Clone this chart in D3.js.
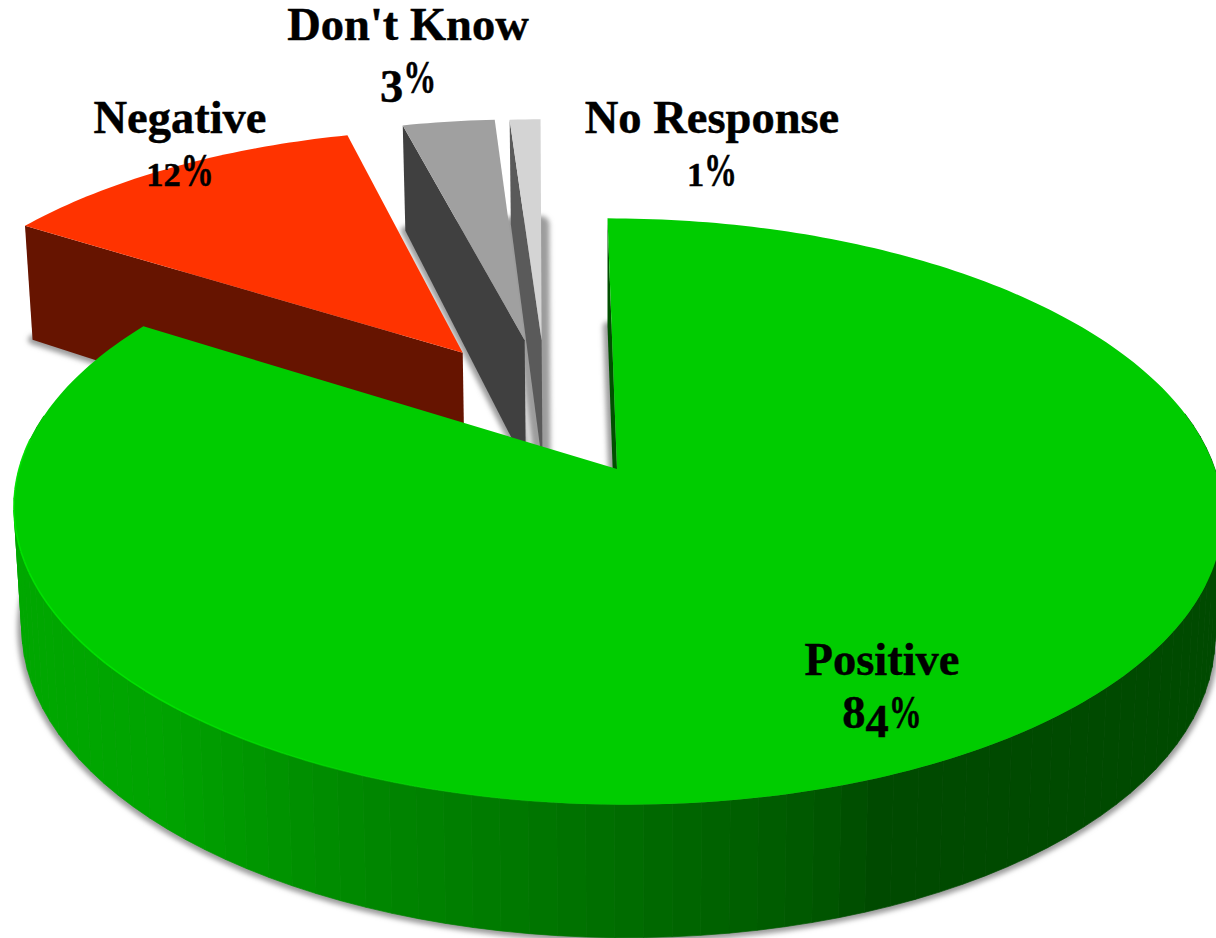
<!DOCTYPE html>
<html>
<head>
<meta charset="utf-8">
<script src="https://cdn.jsdelivr.net/npm/d3@7/dist/d3.min.js"></script>
<style>
html,body{margin:0;padding:0;background:#fff;overflow:hidden}
svg{display:block}
text{font-family:"Liberation Serif",serif;font-weight:700;fill:#000;stroke:#000;stroke-width:.45}
</style>
</head>
<body>
<svg id="chart" width="1216" height="938"></svg>
<script>
// ---- data ----
const categories = ["Positive", "Negative", "Don't Know", "No Response"];
const values = [84, 12, 3, 1];

// ---- layout (disc units: u to the right, v away from the viewer) ----
const explodeU = [0, -0.2668, -0.157, -0.1267];
const explodeV = [0, 0.43, 0.48, 0.48];
const labelX = [882, 180, 408, 712];
const labelY = [675, 133, 40, 133];
const topColors = ["#00cc00", "#ff3300", "#a0a0a0", "#d4d4d4"];
const cutColors = ["#005000", "#661400", "#404040", "#5a5a5a"];
const shadowSpread = [9, 9, 9, 16];

const W = 1216, H = 938;
const cx = 617, cy = 469, R = 598, RY = 287;
const persp = 0.145, shear = 9.5;
const depth = 119.2, depthPersp = 0.104, bottomScale = 0.987;

const svg = d3.select("#chart").attr("viewBox", [0, 0, W, H]);
const defs = svg.append("defs");
defs.append("filter").attr("id", "soft")
  .attr("x", "-20%").attr("y", "-20%").attr("width", "140%").attr("height", "140%")
  .append("feGaussianBlur").attr("stdDeviation", 2.6);

// wall height of the exploded slices by distance from the viewer
const cutDepth = d3.scaleLinear().domain([0.42, 0.96, 1.47]).range([127, 114, 105]);

// projection of a disc point to the top face / bottom face
const sx = (u, v) => cx + R * u / (1 + persp * v) - shear * v;
const sy = (u, v) => cy - RY * v / (1 + persp * v);
const topPt = ([u, v]) => [sx(u, v), sy(u, v)];
const botPt = ([u, v], i) => [
  cx - shear * v + R * bottomScale * u / (1 + persp * v),
  sy(u, v) + (i > 0 ? cutDepth(v) : depth / (1 + depthPersp * v))
];

const pie = d3.pie().sort(null).startAngle(0).endAngle(2 * Math.PI);
const arcs = pie(values);
const pt = (a, i) => [Math.sin(a) + explodeU[i], Math.cos(a) + explodeV[i]];
const apex = i => [explodeU[i], explodeV[i]];
const rim = (d, i, step = Math.PI / 180) => {
  const n = Math.max(2, Math.ceil((d.endAngle - d.startAngle) / step));
  return d3.range(n + 1).map(k => pt(d.startAngle + (d.endAngle - d.startAngle) * k / n, i));
};
const line = d3.line();
const closed = p => line(p) + "Z";

// wall shade of the positive slice, by horizontal position on the disc
const wallShade = d3.scaleLinear()
  .domain([-1, -0.7, -0.44, -0.03, 0.27, 0.36, 1])
  .range(["#00a800", "#00a400", "#008c00", "#006e00", "#005800", "#004a00", "#004a00"]);

// shadows under each bottom face
const gShadow = svg.append("g").attr("filter", "url(#soft)");
arcs.forEach((d, i) => {
  gShadow.append("path")
    .attr("d", closed([apex(i), ...rim(d, i)].map(p => botPt(p, i))))
    .attr("fill", "#9c9c9c").attr("stroke", "#9c9c9c")
    .attr("stroke-width", shadowSpread[i]).attr("stroke-linejoin", "round");
});

// exploded slices back to front, then the large slice
[3, 2, 1, 0].forEach(i => {
  const d = arcs[i], g = svg.append("g").attr("class", "slice").attr("data-name", categories[i]);
  const a = apex(i);
  const e = pt(d.startAngle, i);
  // cut face at the slice's start edge
  g.append("path").attr("d", closed([topPt(e), topPt(a), botPt(a, i), botPt(e, i)])).attr("fill", cutColors[i]);
  if (i === 0) {
    // outer wall as narrow shaded facets (only the side facing the viewer)
    const pts = rim(d, i, 2.4 * Math.PI / 180);
    g.selectAll("path.facet").data(d3.pairs(pts).filter(([p, q]) => p[1] < 0.2 && q[1] < 0.2))
      .join("path").attr("class", "facet")
      .attr("d", ([p, q]) => closed([topPt(p), topPt(q), botPt(q, i), botPt(p, i)]))
      .attr("fill", ([p, q]) => wallShade((p[0] + q[0]) / 2))
      .attr("stroke", ([p, q]) => wallShade((p[0] + q[0]) / 2))
      .attr("stroke-width", 0.7);
  }
  g.append("path").attr("d", closed([a, ...rim(d, i)].map(topPt))).attr("fill", topColors[i]);
  if (i === 0) {
    // bright rim along the lit part of the near edge, fading out towards the front
    const fade = d3.scaleLinear().domain([178, 225, 276]).range([0, 0.85, 0.85]);
    const degs = d3.range(178, 276, 2);
    g.selectAll("path.rimlight").data(degs).join("path").attr("class", "rimlight")
      .attr("d", x => line([x, x + 2].map(a2 => topPt(pt(a2 * Math.PI / 180, 0)))))
      .attr("fill", "none").attr("stroke", "#00e800").attr("stroke-width", 1.6)
      .attr("stroke-opacity", fade);
  }
});

// labels: old-style figures are imitated with per-digit size and drop
const fs = 46.5, lineGap = 53;
const figure = {
  "1": {size: 0.74, drop: 0}, "2": {size: 0.74, drop: 0},
  "3": {size: 1, drop: 0.2}, "4": {size: 1, drop: 0.2},
  "8": {size: 1, drop: 0}
};
values.forEach((v, i) => {
  svg.append("text").attr("x", labelX[i]).attr("y", labelY[i])
    .attr("text-anchor", "middle").attr("font-size", fs).text(categories[i]);
  const p = svg.append("text").attr("x", labelX[i]).attr("y", labelY[i] + lineGap)
    .attr("text-anchor", "middle").attr("font-size", fs);
  let prev = 0;
  String(v).split("").forEach(c => {
    const f = figure[c] || {size: 1, drop: 0};
    p.append("tspan").attr("font-size", fs * f.size)
      .attr("dy", (f.drop - prev) * fs).text(c);
    prev = f.drop;
  });
  p.append("tspan").attr("dy", -prev * fs)
    .attr("textLength", 33).attr("lengthAdjust", "spacingAndGlyphs").text("%");
});
</script>
</body>
</html>
